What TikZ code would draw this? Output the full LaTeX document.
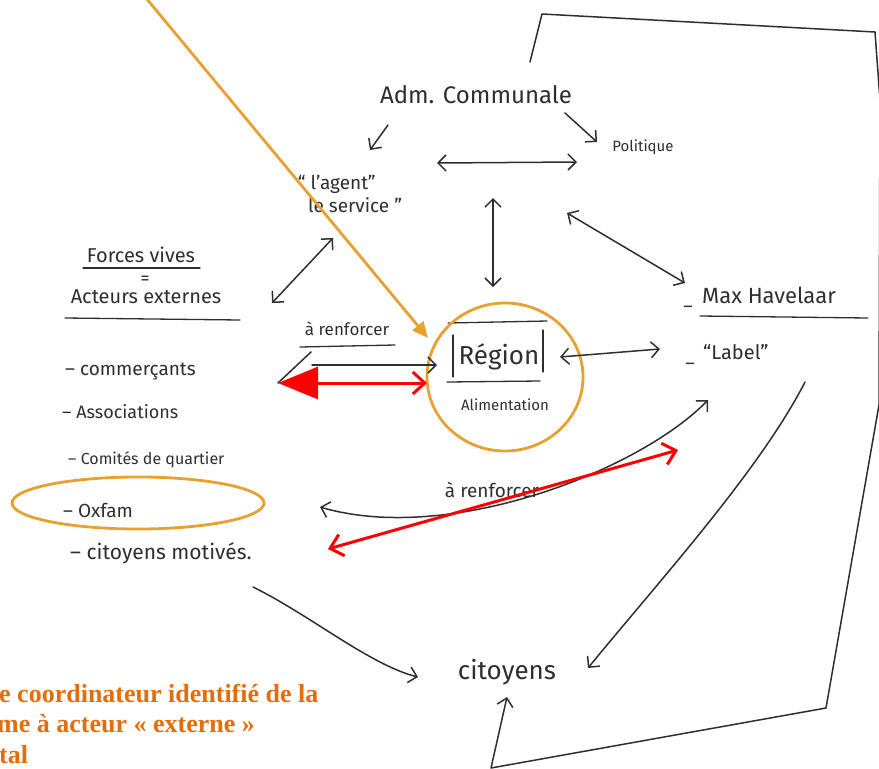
\documentclass[tikz,border=0pt]{standalone}
\usepackage{fontspec}
\setmainfont{Fira Sans}
\newfontfamily\notefont{Liberation Serif}
\usetikzlibrary{positioning,arrows.meta,calc}
\definecolor{sInk}{HTML}{2E2E2E}
\definecolor{sRed}{HTML}{FF0000}
\definecolor{sOrange}{HTML}{E8A031}
\definecolor{sNote}{HTML}{E46C0A}
\newcommand\skfont[1]{\fontsize{#1}{#1}\selectfont}

\begin{document}
\begin{tikzpicture}[x=1pt, y=-1pt, inner sep=0pt,
  hand/.style={text=sInk, font=\skfont{18}},
  pen/.style={draw=sInk, line width=1.5pt, line cap=round, line join=round},
  rule/.style={draw=sInk, line width=1.3pt, line cap=round},
  barb/.tip={Straight Barb[length=8pt, width=16pt, line width=1.5pt]},
  redbarb/.tip={Straight Barb[length=12pt, width=22pt]},
  redpen/.style={draw=sRed, line width=3pt},
  orpen/.style={draw=sOrange, line width=2.8pt}]
\useasboundingbox (0,0) rectangle (879,769);

% administration
\node[hand, font=\skfont{24}] (adm) at (476,95) {Adm. Communale};
\node[hand, font=\skfont{15}] (pol) at (643,147) {Politique};
\node[hand, font=\skfont{19}, align=left] (agent) at (350,194) {“ l'agent”\\[4pt]\ \ le service ”};

% forces vives
\node[hand, font=\skfont{20}] (forces) at (141,255) {Forces vives};
\node[hand] (eq) at (145,280) {=};
\node[hand, font=\skfont{20}] (acteurs) at (146,297) {Acteurs externes};
\draw[rule] (83,268) -- (200,268);
\draw[rule] (65,318) -- (240,320);
\node[hand, anchor=west, font=\skfont{19}] (comm) at (65,372) {– commerçants};
\node[hand, anchor=west, font=\skfont{18}] (assoc) at (62,412) {– Associations};
\node[hand, anchor=west, font=\skfont{16}] (comite) at (68,460) {– Comités de quartier};
\node[hand, anchor=west, font=\skfont{19}] (oxfam) at (63,510) {– Oxfam};
\node[hand, anchor=west, font=\skfont{21}] (cmot) at (70,553) {– citoyens motivés.};
\draw[orpen] (138,503) ellipse [x radius=126pt, y radius=26pt];

% region
\node[hand, font=\skfont{26}] (region) at (499,357) {Région};
\node[hand, font=\skfont{15}] (alim) at (505,405) {Alimentation};
\draw[rule] (448,323) -- (547,321);
\draw[rule] (453,335) -- (453,377);
\draw[rule] (543,330) -- (543,372);
\draw[rule] (447,382) -- (540,381);
\draw[orpen] (505,377) ellipse [x radius=78pt, y radius=74pt];

% label
\node[hand, font=\skfont{22}, anchor=west] (mas) at (702,295) {Max Havelaar};
\draw[rule] (700,316) -- (868,318);
\node[hand, font=\skfont{18}] (dash1) at (688,309) {–};
\node[hand, font=\skfont{18}] (dash2) at (690,366) {–};
\node[hand, font=\skfont{20}, anchor=west] (label) at (703,352) {“Label”};

% renforcer
\node[hand, font=\skfont{17}] (renf1) at (347,329) {à renforcer};
\draw[rule] (300,347) -- (395,345);
\node[hand, font=\skfont{19}] (renf2) at (492,490) {à renforcer};
\node[hand, font=\skfont{26}] (cit) at (507,672) {citoyens};

% connectors
\coordinate (a1) at (388,125); \coordinate (a2) at (370,150);
\coordinate (p1) at (565,113); \coordinate (p2) at (597,142);
\coordinate (h1) at (437,163); \coordinate (h2) at (577,162);
\coordinate (v1) at (493,198); \coordinate (v2) at (493,287);
\coordinate (d1) at (567,213); \coordinate (d2) at (685,283);
\coordinate (f1) at (333,238); \coordinate (f2) at (272,303);
\coordinate (r1) at (560,357); \coordinate (r2) at (660,349);
\draw[pen, -barb] (a1) -- (a2);
\draw[pen, -barb] (p1) -- (p2);
\draw[pen, barb-barb] (h1) -- (h2);
\draw[pen, barb-barb] (v1) -- (v2);
\draw[pen, barb-barb] (d1) -- (d2);
\draw[pen, barb-barb] (f1) -- (f2);
\draw[pen, barb-barb] (r1) -- (r2);

% region to forces vives
\coordinate (b1) at (437,365); \coordinate (b2) at (312,365);
\coordinate (b3) at (311,352); \coordinate (b4) at (278,383);
\draw[pen, -barb] (b2) -- (b1);
\draw[pen] (b3) -- (b4);
\draw[redpen, {Triangle[length=40pt, width=32pt]}-redbarb] (b4) -- (427,383);

% lower curve
\coordinate (c1) at (708,400); \coordinate (c2) at (320,507);
\draw[pen, barb-barb] (c1) .. controls (640,470) and (450,545) .. (c2);
\coordinate (e1) at (328,549); \coordinate (e2) at (678,450);
\draw[redpen, redbarb-redbarb] (e1) -- (e2);

% to citoyens
\coordinate (m1) at (253,587); \coordinate (m2) at (418,677);
\draw[pen, -barb] (m1) .. controls (310,615) and (370,665) .. (m2);
\coordinate (l1) at (805,382); \coordinate (l2) at (588,668);
\draw[pen, -barb] (l1) .. controls (760,470) and (660,580) .. (l2);
\draw[pen, -barb] (530,62) -- (542,14) -- (875,32) -- (880,100) -- (879,405)
  -- (826,708) -- (491,768) -- (507,697);

% orange pointer
\coordinate (o1) at (146,-2);
\draw[orpen, -{Triangle[length=16pt, width=14pt]}] (o1) -- (428,338);

% note
\node[anchor=base west, text=sNote, font=\notefont\bfseries\skfont{26}] (note1) at (-1,702) {e coordinateur identifié de la};
\node[anchor=base west, text=sNote, font=\notefont\bfseries\skfont{26}] (note2) at (-3,732) {me à acteur « externe »};
\node[anchor=base west, text=sNote, font=\notefont\bfseries\skfont{26}] (note3) at (-1,763) {tal};
\end{tikzpicture}
\end{document}
